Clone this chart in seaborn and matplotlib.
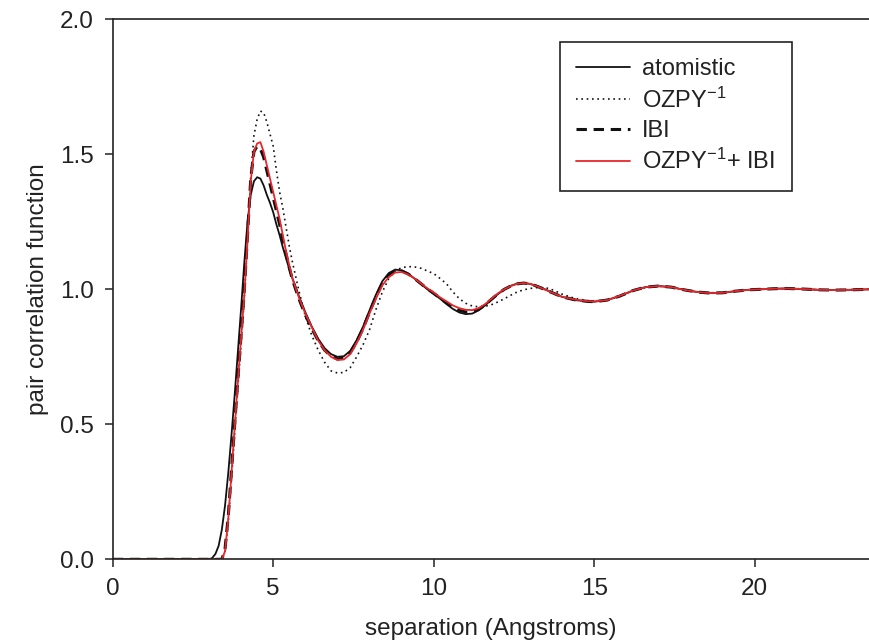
import numpy as np
import pandas as pd
import matplotlib
matplotlib.use("Agg")
import matplotlib.pyplot as plt
import seaborn as sns

# Separation grid (Angstroms) shared by all series
r = [0.0, 1.0, 2.0, 2.8, 3.0, 3.1, 3.2, 3.3, 3.4, 3.5, 3.6, 3.7, 3.8, 3.9,
     4.0, 4.1, 4.2, 4.3, 4.4, 4.5, 4.6, 4.7, 4.8, 4.9, 5.0, 5.1, 5.2, 5.3,
     5.4, 5.5, 5.6, 5.8, 6.0, 6.2, 6.4, 6.6, 6.8, 7.0, 7.2, 7.4, 7.6, 7.8,
     8.0, 8.2, 8.4, 8.6, 8.8, 9.0, 9.2, 9.4, 9.6, 9.8, 10.0, 10.2, 10.4,
     10.6, 10.8, 11.0, 11.2, 11.4, 11.6, 11.8, 12.0, 12.2, 12.4, 12.6, 12.8,
     13.0, 13.2, 13.4, 13.6, 13.8, 14.0, 14.4, 14.8, 15.0, 15.4, 15.8, 16.2,
     16.6, 17.0, 17.4, 17.8, 18.2, 18.6, 19.0, 19.4, 19.8, 20.2, 20.6, 21.0,
     21.5, 22.0, 22.5, 23.0, 23.6]

g_atomistic = [0.0, 0.0, 0.0, 0.0, 0.0, 0.005, 0.02, 0.05, 0.11, 0.20, 0.32,
               0.46, 0.61, 0.77, 0.93, 1.10, 1.25, 1.35, 1.40, 1.415, 1.41,
               1.385, 1.35, 1.32, 1.285, 1.24, 1.20, 1.155, 1.115, 1.075,
               1.04, 0.975, 0.915, 0.862, 0.817, 0.782, 0.760, 0.750, 0.752,
               0.772, 0.812, 0.862, 0.922, 0.980, 1.030, 1.060, 1.073, 1.070,
               1.058, 1.040, 1.020, 1.000, 0.983, 0.965, 0.945, 0.927, 0.914,
               0.908, 0.910, 0.922, 0.940, 0.962, 0.982, 1.000, 1.013, 1.021,
               1.023, 1.020, 1.013, 1.003, 0.993, 0.982, 0.972, 0.960, 0.955,
               0.954, 0.960, 0.975, 0.995, 1.008, 1.012, 1.008, 0.998, 0.990,
               0.986, 0.987, 0.993, 0.998, 1.000, 1.002, 1.003, 1.001, 0.998,
               0.997, 0.998, 1.000]

g_ozpy = [0.0, 0.0, 0.0, 0.0, 0.0, 0.0, 0.0, 0.0, 0.0, 0.03, 0.14, 0.30,
          0.47, 0.64, 0.80, 0.97, 1.18, 1.42, 1.57, 1.63, 1.66, 1.655, 1.62,
          1.575, 1.53, 1.44, 1.36, 1.30, 1.23, 1.16, 1.10, 0.995, 0.900,
          0.830, 0.775, 0.730, 0.698, 0.690, 0.692, 0.710, 0.750, 0.795,
          0.850, 0.925, 0.990, 1.040, 1.068, 1.080, 1.084, 1.083, 1.078,
          1.068, 1.058, 1.040, 1.020, 0.990, 0.965, 0.948, 0.938, 0.935,
          0.937, 0.943, 0.953, 0.965, 0.978, 0.990, 0.998, 1.003, 1.006,
          1.006, 1.003, 0.993, 0.982, 0.966, 0.958, 0.957, 0.961, 0.975,
          0.994, 1.007, 1.011, 1.008, 0.999, 0.991, 0.987, 0.988, 0.993,
          0.998, 1.000, 1.002, 1.002, 1.001, 0.998, 0.998, 0.999, 1.000]

g_ibi = [0.0, 0.0, 0.0, 0.0, 0.0, 0.0, 0.0, 0.0, 0.0, 0.04, 0.16, 0.33,
         0.50, 0.67, 0.83, 1.00, 1.20, 1.41, 1.51, 1.53, 1.52, 1.49, 1.44,
         1.39, 1.34, 1.29, 1.24, 1.18, 1.13, 1.08, 1.035, 0.965, 0.905,
         0.855, 0.810, 0.775, 0.752, 0.742, 0.745, 0.765, 0.805, 0.855,
         0.915, 0.972, 1.022, 1.052, 1.068, 1.068, 1.057, 1.040, 1.021,
         1.002, 0.985, 0.967, 0.950, 0.934, 0.922, 0.916, 0.916, 0.926,
         0.942, 0.963, 0.983, 1.000, 1.012, 1.020, 1.023, 1.020, 1.012,
         1.002, 0.992, 0.982, 0.972, 0.961, 0.955, 0.954, 0.960, 0.975,
         0.995, 1.008, 1.012, 1.008, 0.998, 0.990, 0.986, 0.987, 0.993,
         0.998, 1.000, 1.002, 1.003, 1.001, 0.998, 0.997, 0.998, 1.000]

g_ozpy_ibi = [0.0, 0.0, 0.0, 0.0, 0.0, 0.0, 0.0, 0.0, 0.0, 0.03, 0.15, 0.32,
              0.49, 0.66, 0.82, 0.98, 1.18, 1.40, 1.51, 1.54, 1.545, 1.51,
              1.46, 1.41, 1.36, 1.31, 1.26, 1.20, 1.14, 1.09, 1.04, 0.970,
              0.910, 0.860, 0.810, 0.775, 0.750, 0.738, 0.740, 0.760, 0.800,
              0.850, 0.910, 0.965, 1.015, 1.045, 1.062, 1.064, 1.055, 1.040,
              1.022, 1.004, 0.988, 0.970, 0.955, 0.940, 0.930, 0.924, 0.923,
              0.930, 0.945, 0.965, 0.985, 1.000, 1.012, 1.020, 1.023, 1.020,
              1.012, 1.002, 0.992, 0.982, 0.972, 0.962, 0.956, 0.955, 0.960,
              0.976, 0.995, 1.008, 1.012, 1.008, 0.998, 0.990, 0.986, 0.987,
              0.993, 0.998, 1.000, 1.002, 1.003, 1.001, 0.998, 0.997, 0.998,
              1.000]

x_ticks = [0, 5, 10, 15, 20]
y_ticks = [0.0, 0.5, 1.0, 1.5, 2.0]
y_tick_labels = ["0.0", "0.5", "1.0", "1.5", "2.0"]

FS = 17.5
INK = "#222222"

sns.set_theme(style="ticks")
plt.rcParams["font.family"] = ["Liberation Sans", "DejaVu Sans"]
plt.rcParams["mathtext.default"] = "regular"
plt.rcParams["mathtext.fontset"] = "custom"
plt.rcParams["mathtext.rm"] = "Liberation Sans"

fig = plt.figure(figsize=(8.69, 6.42), dpi=100)
ax = fig.add_axes([0.1297, 0.1288, 0.8703, 0.8412])

df = pd.DataFrame({"r": r, "atomistic": g_atomistic, "ozpy": g_ozpy,
                   "ibi": g_ibi, "ozpy_ibi": g_ozpy_ibi})

sns.lineplot(data=df, x="r", y="atomistic", ax=ax, color="#111111",
             linewidth=1.3, label="atomistic", sort=False, estimator=None)
sns.lineplot(data=df, x="r", y="ozpy", ax=ax, color="#111111",
             linewidth=1.2, label="OZPY$^{-1}$", sort=False, estimator=None)
sns.lineplot(data=df, x="r", y="ibi", ax=ax, color="#111111",
             linewidth=2.2, label="IBI", sort=False, estimator=None)
sns.lineplot(data=df, x="r", y="ozpy_ibi", ax=ax, color="#e8262c",
             linewidth=1.3, label="OZPY$^{-1}$+ IBI", sort=False,
             estimator=None)

lines = ax.get_lines()
lines[1].set_linestyle((0, (1, 2.2)))
lines[2].set_linestyle((0, (3.4, 2.2)))

ax.set_xlim(0, 23.56)
ax.set_ylim(0, 2.0)
ax.set_xticks(x_ticks)
ax.set_xticklabels([str(t) for t in x_ticks])
ax.set_yticks(y_ticks)
ax.set_yticklabels(y_tick_labels)

for side in ["left", "bottom", "top"]:
    ax.spines[side].set_visible(True)
    ax.spines[side].set_color(INK)
    ax.spines[side].set_linewidth(1.2)
ax.spines["right"].set_visible(False)

ax.tick_params(axis="both", direction="out", length=5.5, width=1.1,
               color=INK, labelsize=FS, labelcolor=INK, pad=8)
ax.tick_params(top=False, right=False)

ax.set_xlabel("separation (Angstroms)", fontsize=FS, color=INK, labelpad=13)
ax.set_ylabel("pair correlation function", fontsize=FS, color=INK,
              labelpad=8)

leg = ax.legend(loc="upper right", bbox_to_anchor=(0.898, 0.958),
                borderaxespad=0, fontsize=17, frameon=True, fancybox=False,
                handlelength=2.3, handletextpad=0.5, labelspacing=0.3,
                borderpad=0.7)
frame = leg.get_frame()
frame.set_edgecolor(INK)
frame.set_linewidth(1.2)
frame.set_facecolor("white")
frame.set_alpha(1)
for t in leg.get_texts():
    t.set_color(INK)

fig.savefig("out.png", dpi=100)
